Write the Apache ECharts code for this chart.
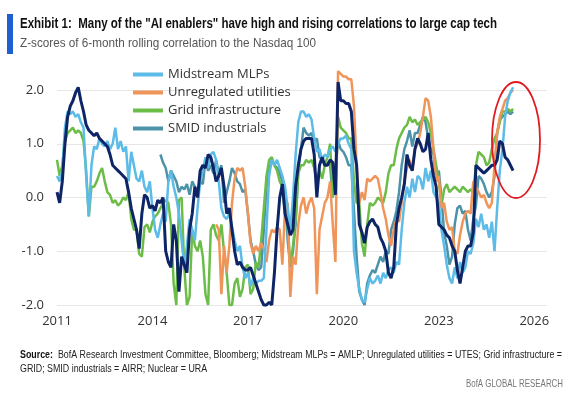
<!DOCTYPE html>
<html>
<head>
<meta charset="utf-8">
<script src="https://cdn.jsdelivr.net/npm/echarts@6.0.0/dist/echarts.min.js"></script>
<style>
  html, body { margin: 0; padding: 0; background: #fff; }
  #chart { width: 576px; height: 398px; }
</style>
</head>
<body>
<div id="chart"></div>
<script>
// monthly z-scores, each series starts at its own month
const mlpStart = 2011
const mlpValues = [
  0.4, 0.3, 0.5, 1.3, 1.6, 1.55, 1.6, 1.5, 1.55, 1.4, 1.3, 0.4,
  -0.35, 0.6, 0.95, 0.9, 1.1, 1.0, 0.95, 1.05, 0.9, 1.0, 1.3, 0.9,
  1.05, 0.85, 0.95, 0.3, 0.85, 0.6, 0.35, 0.3, 0.5, 0.2, 0.1, 0.3,
  -0.2, -0.6, -0.75, -0.5, -0.3, -0.45, 0.3, 0.5, 0.2, 0.0, -0.3, -0.8,
  -1.3, -0.9, -0.4, -0.6, -0.8, -0.2, 0.3, 0.5, 0.75, 0.55, 0.8, 0.85,
  0.7, 0.3, -0.2, -0.35, -0.4, -0.3, -0.55, -0.8, -1.0, -0.9, -1.3, -1.5,
  -1.4, -1.65, -1.5, -1.6, -1.55, -1.55, -1.5, -0.6, 0.4, 0.7, 0.6, 0.7,
  0.55, 0.4, 0.2, -0.2, -0.6, 0.0, 0.8, 1.4, 1.6, 1.6, 1.5, 1.55,
  1.45, 1.1, 0.85, 0.9, 0.7, 0.8, 0.75, 0.9, 0.95, 0.85, 1.0, 1.1,
  1.1, 1.15, 1.0, 0.9, -1.0, -1.4, -1.7, -1.9, -1.95, -1.7, -1.5, -1.6,
  -1.55, -1.45, -1.6, -1.4, -1.5, -1.35, -1.3, -1.4, -1.2, -1.25, -0.6, -0.1,
  0.2, 0.0, 0.35, 0.1, 0.4, 0.35, 0.15, 0.55, 0.3, 0.5, 0.1, 0.0,
  -0.1, -0.6, -0.9, -1.25, -1.5, -1.6, -1.3, -1.5, -1.2, -1.4, -1.3, -1.0,
  -1.05, -0.85, -0.4, -0.55, -0.3, -0.6, -0.5, -0.75, -0.45, -1.0, -0.2, 0.5,
  0.9, 1.5, 1.8, 1.95, 2.05
]

const utesStart = 2016
const utesValues = [
  -0.5, -0.6, -1.8, -0.9, -1.4, -0.9, -0.1, 0.35, 0.55, 0.5, 0.55, 0.2,
  -0.3, -0.85, -1.05, -0.9, -1.0, -0.85, -0.95, -1.2, -0.8, -0.6, -0.65, -0.55,
  -0.6, -1.25, -0.2, -0.1, -1.85, -1.1, -1.25, -0.5, -0.15, 0.0, -0.3, -0.1,
  0.0, -0.2, -1.8, -0.6, -0.35, -0.1, 0.0, 0.3, -0.5, -1.2, 2.35, 2.3,
  2.25, 2.25, 2.2, 2.2, 1.7, 0.6, -0.1, 0.1, -0.05, 0.35, 0.3, 0.35,
  0.4, 0.35, 0.1, -0.2, -0.4, -0.7, -0.9, -0.6, -0.4, -0.45, -0.1, 0.3,
  0.55, 0.7, 0.5, 0.9, 1.0, 1.2, 1.5, 1.85, 1.8, 1.5, 0.9, 0.3,
  0.4, -0.2, -0.1, -0.45, -0.6, -0.55, -1.0, -1.05, -0.7, -0.45, -0.3, -0.25,
  -0.3, 0.3, 0.2, 0.1, 0.0, 0.05, -0.1, -0.2, -0.1, 0.6, 1.2, 1.5,
  1.65, 1.8, 1.85, 1.95, 2.0
]

const gridStart = 2011
const gridValues = [
  0.7, 0.4, 0.6, 1.05, 1.2, 1.25, 1.3, 1.2, 1.25, 1.2, 1.05, 0.5,
  -0.35, 0.2, 0.2, 0.3, 0.45, 0.55, 0.3, 0.1, 0.05, -0.1, -0.05, -0.15,
  -0.1, 0.0, -0.05, 0.1, -0.4, -0.6, -0.6, -1.05, -1.1, -0.55, -0.5, -0.65,
  -0.45, -0.35, -0.3, -0.2, -0.1, -0.05, -0.1, -0.5, -1.6, -2.0, -0.05, 0.0,
  -1.3, -2.0, -1.85, -0.6, -0.9, -1.0, -0.8, -1.1, -1.8, -2.0, -0.6, -0.5,
  -0.7, -0.8, -0.5, -1.0, -1.4, -2.0, -2.0, -1.6, -1.5, -1.85, -1.7, -1.3,
  -1.25, -1.8, -1.7, -1.2, -1.3, -0.8, -0.2, 0.4, 0.7, 0.75, 0.6, 0.5,
  0.3, 0.2, -0.3, -0.5, -1.25, -0.9, -0.4, 0.45, 0.6, 0.6, 0.7, 0.65,
  0.7, 0.55, 0.3, 0.5, 0.35, 0.6, 0.75, 1.0, 0.0, 0.4, 1.5, 1.3,
  1.25, 1.2, 1.1, 1.1, 0.3, -0.1, -0.1, -0.85, -1.1, -0.5, -0.1, -0.15,
  -0.1, 0.0, -0.05, -0.1, 0.1, 0.45, 0.6, 0.6, 0.9, 1.1, 1.2, 1.3,
  1.35, 1.5, 1.4, 1.45, 1.35, 1.4, 1.45, 1.5, 1.4, 1.2, 0.9, 0.6,
  0.3, -0.15, 0.15, 0.25, 0.1, 0.15, 0.2, 0.15, 0.1, 0.2, 0.15, 0.1,
  0.15, 0.1, 0.6, 0.85, 0.8, 0.75, 0.6, 0.65, 0.9, 1.1, 1.2, 1.4,
  1.6, 1.6, 1.65, 1.6, 1.65
]

const smidStart = 2014.25 // April 2014
const smidValues = [
  0.8, 0.65, 0.55, 0.3, 0.5, 0.4, 0.3, 0.1, 0.2,
  0.15, 0.25, 0.05, 0.3, 0.2, 0.05, 0.3, 0.25, 0.7, 0.5, 0.6, 0.45,
  0.7, 0.45, 0.6, -0.1, 0.1, 0.3, 0.55, 0.45, 0.3, 0.25, 0.1, 0.15,
  -0.3, -0.8, -1.0, -1.25, -1.35, -1.3, -0.6, 0.2, 0.5, 0.7, 0.6, 0.55,
  0.45, 0.3, 0.0, -0.8, -1.3, -1.0, -0.5, 0.5, 0.9, 1.3, 1.2, 1.15,
  1.2, 1.05, 1.1, 0.75, 0.7, 0.6, 0.65, 0.6, 0.0, 0.5, 1.05, 0.9,
  0.85, 0.75, 0.6, 0.6, -0.25, -1.1, -1.75, -1.9, -2.0, -1.6, -1.45, -1.35,
  -1.4, -1.25, -1.1, -1.2, -1.0, -1.05, -0.6, -0.45, -0.25, 0.1, 0.6, 0.9,
  1.05, 1.25, 0.95, 1.2, 1.2, 1.35, 1.5, 1.4, 1.1, 0.9, 0.8, 0.3,
  0.5, 0.0, -0.65, -0.9, -1.25, -1.1, -0.5, -0.2, -0.15, -0.3, -0.25, -0.6,
  -0.8, -0.4, -0.15, 0.4, 0.35, 0.25, 0.1, 0.0, 0.1, 0.4, 1.2, 1.45,
  1.5, 1.55, 1.6, 1.55, 1.6
]

const nuclearStart = 2011
const nuclearValues = [
  0.1, -0.1, 0.3, 1.0, 1.5, 1.7, 1.8, 1.95, 2.05, 1.8, 1.6, 1.35,
  1.25, 1.2, 1.15, 1.2, 1.1, 1.05, 1.0, 0.95, 0.8, 0.6, 0.55, 0.5,
  0.45, 0.4, 0.35, 0.1, -0.2, -0.4, -0.6, -0.95, -0.3, 0.05, 0.0, -0.2,
  -0.15, -0.25, -0.05, -0.1, 0.0, -1.0, -1.2, -1.3, -0.5, -0.8, -1.75, -1.1,
  -1.25, -1.4, -0.6, -0.3, 0.2, 0.0, 0.5, 0.6, 0.55, 0.8, 0.75, 0.55,
  0.3, 0.4, 0.55, 0.2, -0.3, -0.2, -0.6, -1.0, -1.25, -1.2, -1.3, -1.35,
  -1.35, -1.3, -1.45, -1.6, -1.75, -1.9, -2.0, -2.0, -1.95, -2.0, -1.4, -0.6,
  0.0, 0.25, -0.3, -0.5, -0.7, -0.6, 0.2, 0.6, 0.9, 1.05, 1.1, 1.1,
  1.1, 0.8, 0.0, 0.6, 0.75, 0.6, 0.6, 0.7, 0.65, 0.05, 2.15, 1.8,
  1.8, 1.75, 1.75, 1.6, 0.9, 0.6, -0.5, -0.65, -0.85, -0.55, -0.45, -0.4,
  -0.5, -0.55, -0.75, -0.85, -1.0, -1.4, -1.5, -1.3, -0.5, -0.2, 0.0, 0.25,
  0.8, 0.6, 0.5, 0.9, 1.1, 1.0, 0.85, 0.9, 1.2, 0.7, 0.4, 0.2,
  -0.5, -0.55, -0.6, -0.7, -0.75, -0.9, -1.0, -1.35, -1.6, -1.3, -1.0, -0.9,
  -0.9, -0.65, 0.6, 0.55, 0.5, 0.45, 0.5, 0.55, 0.6, 0.6, 0.7, 1.05,
  1.0, 0.75, 0.7, 0.6, 0.5
]

const legendNames = ['Midstream MLPs', 'Unregulated utilities', 'Grid infrastructure', 'SMID industrials']
const xTickYears = [2011, 2014, 2017, 2020, 2023, 2026]
const yTicks = [-2, -1, 0, 1, 2]

const titleText = 'Exhibit 1:  Many of the "AI enablers" have high and rising correlations to large cap tech'
const subtitleText = 'Z-scores of 6-month rolling correlation to the Nasdaq 100'
const sourceLabel = 'Source:'
const sourceLine1 = '  BofA Research Investment Committee, Bloomberg; Midstream MLPs = AMLP; Unregulated utilities = UTES; Grid infrastructure ='
const sourceLine2 = 'GRID; SMID industrials = AIRR; Nuclear = URA'
const footerText = 'BofA GLOBAL RESEARCH'

const body = "'Open Sans', 'Noto Sans', sans-serif"
const sans = "'Liberation Sans', Arial, sans-serif"

// the original uses a condensed face; squeeze a regular one to the same width
const measureCtx = document.createElement('canvas').getContext('2d')
const textWidth = (text, font) => {
  measureCtx.font = font
  return measureCtx.measureText(text).width
}

const titleFont = `bold 14px ${sans}`
const subtitleFont = `13px ${sans}`
const sourceBoldFont = `bold 10px ${sans}`
const sourceFont = `10px ${sans}`
const footerFont = `11px ${sans}`

const titleScale = 477 / textWidth(titleText, titleFont)
const subtitleScale = 296 / textWidth(subtitleText, subtitleFont)
const sourceBoldW = textWidth(sourceLabel, sourceBoldFont)
const sourceScale = 542 / (sourceBoldW + textWidth(sourceLine1, sourceFont))
const footerScale = 97 / textWidth(footerText, footerFont)

// month index -> decimal year
const toPoints = (start, values) => values.map((v, i) => [start + i / 12, v])

const chart = echarts.init(document.getElementById('chart'))

const lineSeries = (name, start, values, color, width) => ({
  name,
  type: 'line',
  data: toPoints(start, values),
  showSymbol: false,
  symbol: 'none',
  clip: false,
  lineStyle: { color, width },
  itemStyle: { color },
  emphasis: { disabled: true }
})

const textEl = (text, x, y, font, fill, scale, align) => ({
  type: 'text',
  x, y,
  scaleX: scale,
  style: { text, font, fill, textAlign: align || 'left', textVerticalAlign: 'middle' }
})

const option = {
  animation: false,
  legend: {
    data: legendNames,
    orient: 'vertical',
    left: 133, top: 67,
    padding: 0,
    icon: 'rect',
    itemWidth: 30, itemHeight: 4,
    itemGap: 3,
    selectedMode: false,
    textStyle: { fontFamily: body, fontSize: 13, color: '#333', lineHeight: 15 }
  },
  grid: { left: 57, right: 29, top: 90, bottom: 93 },
  xAxis: {
    type: 'value',
    min: 2011, max: 2026.4, interval: 3,
    axisLine: { show: false },
    axisTick: { show: false },
    splitLine: { show: false },
    axisLabel: {
      margin: 10,
      fontFamily: body, fontSize: 13, color: '#333',
      formatter: v => (xTickYears.includes(v) ? String(v) : '')
    }
  },
  yAxis: {
    type: 'value',
    min: -2, max: 2, interval: 1,
    axisLine: { show: false },
    axisTick: { show: false },
    splitLine: { lineStyle: { color: '#e6e6e6', width: 1 } },
    axisLabel: {
      margin: 13,
      fontFamily: body, fontSize: 13, color: '#333',
      formatter: v => (yTicks.includes(v) ? v.toFixed(1) : '')
    }
  },
  series: [
    lineSeries('SMID industrials', smidStart, smidValues, '#4c93aa', 2.5),
    lineSeries('Grid infrastructure', gridStart, gridValues, '#6cbd48', 2.5),
    lineSeries('Unregulated utilities', utesStart, utesValues, '#f0955a', 2.5),
    lineSeries('Midstream MLPs', mlpStart, mlpValues, '#5cbbe7', 2.5),
    lineSeries('Nuclear', nuclearStart, nuclearValues, '#0d2466', 3)
  ],
  graphic: [
    // blue bar beside the title
    { type: 'rect', shape: { x: 7, y: 14, width: 6, height: 40 }, style: { fill: '#1f5fd0' } },
    textEl(titleText, 20, 24, titleFont, '#111', titleScale),
    textEl(subtitleText, 20, 43, subtitleFont, '#555', subtitleScale),
    textEl(sourceLabel, 20, 355, sourceBoldFont, '#111', sourceScale),
    textEl(sourceLine1, 20 + sourceBoldW * sourceScale, 355, sourceFont, '#222', sourceScale),
    textEl(sourceLine2, 20, 369, sourceFont, '#222', sourceScale),
    textEl(footerText, 563, 384, footerFont, '#777', footerScale, 'right'),
    // red callout ring round the latest readings
    {
      type: 'ellipse',
      shape: { cx: 516, cy: 140, rx: 24, ry: 58 },
      style: { fill: 'none', stroke: '#e01a22', lineWidth: 1.8 },
      z: 100
    }
  ]
}

chart.setOption(option)
</script>
</body>
</html>
